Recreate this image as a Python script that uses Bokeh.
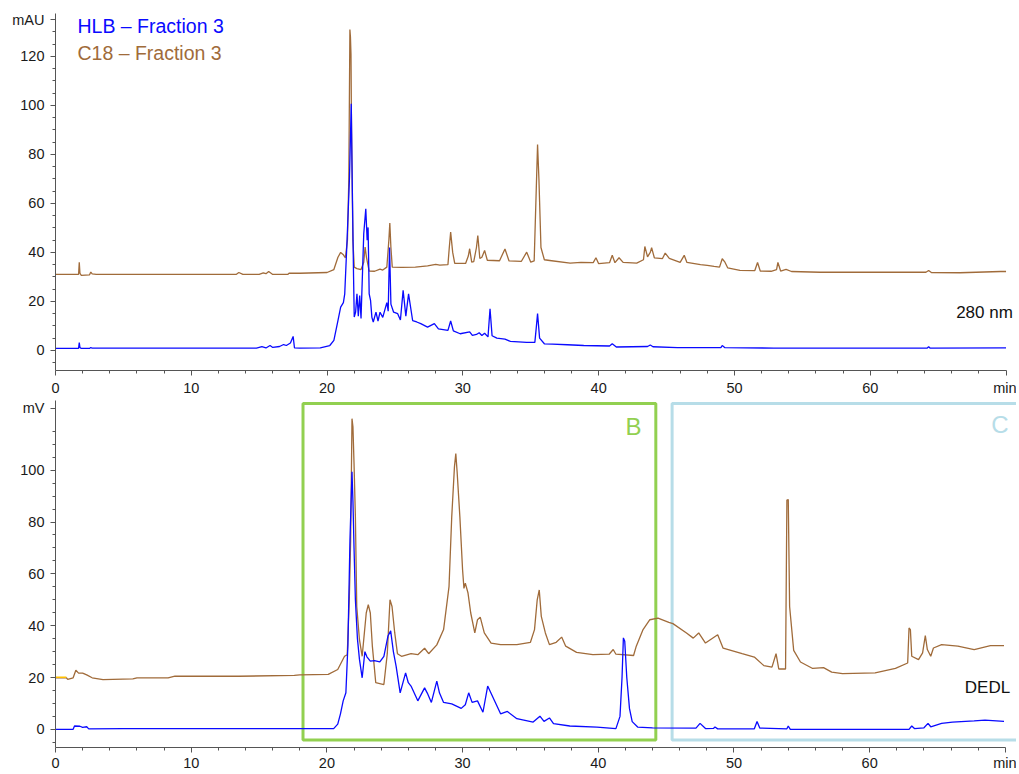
from bokeh.plotting import figure
from bokeh.layouts import column
from bokeh.models import FixedTicker, Range1d, Label
from bokeh.core.properties import value
from bokeh.embed import file_html
from bokeh.resources import INLINE

FONT = "Liberation Sans"
BLUE = "#0a0aff"
BROWN = "#a06b3a"
GREEN = "#92d050"
LIGHTBLUE = "#b7dde8"
YELLOW = "#ffc000"
AXIS = "#555555"

# ---------------- data: UV 280 nm (top panel) ----------------
c18_uv_t = [0, 1.7, 1.75, 1.8, 1.9, 2.5, 2.6, 2.7, 3.0, 13.3, 13.5, 13.8, 15.0, 15.3, 15.5, 15.7, 16.0,
            17.1, 17.2, 18.0, 20.0, 20.5, 20.8, 21.0, 21.2, 21.35, 21.5, 21.6, 21.68, 21.72, 21.76, 21.8,
            21.9, 22.0, 22.2, 22.5, 22.7, 22.8, 22.9, 23.1, 23.5, 23.9, 24.1, 24.4, 24.55, 24.62, 24.7,
            24.8, 25.5, 26.5, 27.4, 28.0, 28.3, 28.9, 29.0, 29.1, 29.25, 29.4, 30.2, 30.4, 30.5, 30.65,
            30.8, 31.0, 31.1, 31.25, 31.4, 31.6, 31.8, 32.7, 33.1, 33.4, 34.3, 34.7, 35.0, 35.25, 35.4,
            35.5, 35.6, 35.75, 36.0, 36.4, 37.9, 38.7, 39.6, 39.8, 40.0, 40.8, 41.0, 41.2, 41.5, 41.8,
            42.8, 43.3, 43.4, 43.6, 43.8, 43.9, 44.1, 44.7, 44.9, 45.2, 46.0, 46.3, 46.5, 47.5, 48.0,
            48.5, 48.9, 49.1, 49.3, 49.5, 50.4, 51.5, 51.7, 51.9, 52.7, 53.1, 53.2, 53.4, 53.8, 54.2,
            55.6, 56.3, 61.0, 64.1, 64.3, 64.5, 66.6, 69.6, 70.0]
c18_uv_v = [31.0, 31.0, 36.0, 31.5, 30.6, 30.8, 32.0, 31.2, 31.0, 31.0, 31.8, 31.0, 31.0, 31.6, 31.3, 32.2, 31.0,
            31.0, 31.5, 31.5, 31.8, 33.0, 38.0, 40.0, 39.0, 37.8, 45.0, 70.0, 131.0, 128.0, 121.0, 90.0,
            45.0, 34.0, 33.4, 33.0, 36.0, 42.2, 38.0, 32.4, 32.3, 33.2, 32.8, 34.0, 45.0, 52.0, 42.0,
            34.0, 33.9, 34.0, 34.5, 35.1, 34.8, 35.0, 42.0, 48.3, 40.0, 35.5, 35.5, 38.5, 41.5, 36.0,
            36.2, 42.0, 46.9, 37.5, 38.0, 40.8, 36.8, 36.6, 41.4, 36.5, 36.3, 40.1, 36.0, 36.5, 65.0,
            84.0, 70.0, 42.0, 37.0, 36.7, 35.6, 35.9, 35.8, 37.8, 35.4, 35.8, 38.8, 35.8, 37.8, 35.9,
            35.6, 37.0, 42.4, 38.2, 40.0, 41.9, 37.8, 37.5, 39.7, 37.6, 35.9, 38.8, 35.9, 35.0, 34.7,
            34.3, 34.0, 37.4, 36.0, 33.7, 32.7, 32.6, 35.9, 32.4, 32.3, 33.0, 35.9, 32.4, 33.1, 32.2,
            32.0, 31.9, 31.9, 31.9, 32.6, 31.8, 31.7, 32.2, 32.2]

hlb_uv_t = [0, 1.7, 1.75, 1.8, 1.9, 2.5, 2.6, 2.7, 3.0, 14.8, 15.2, 15.5, 15.8, 16.0, 16.5, 16.8, 17.0, 17.3,
            17.5, 17.6, 18.0, 19.5, 20.2, 20.5, 20.8, 21.0, 21.2, 21.3, 21.45, 21.55, 21.65, 21.78, 21.85,
            21.95, 22.0, 22.1, 22.2, 22.3, 22.4, 22.5, 22.7, 22.85, 22.95, 23.02, 23.1, 23.2, 23.3, 23.4,
            23.6, 23.75, 23.9, 24.1, 24.4, 24.5, 24.6, 24.7, 24.9, 25.2, 25.4, 25.6, 25.8, 26.0, 26.3,
            26.6, 26.9, 27.4, 27.9, 28.2, 28.9, 29.1, 29.3, 29.8, 30.5, 30.7, 31.0, 31.2, 31.4, 31.6,
            31.85, 32.0, 32.15, 32.5, 33.1, 33.5, 34.7, 35.3, 35.4, 35.5, 35.65, 36.0, 36.6, 37.7, 38.9,
            40.8, 41.0, 41.3, 43.6, 43.8, 44.0, 45.8, 49.0, 49.1, 49.3, 52.9, 61.0, 64.2, 64.3, 64.4, 70.0]
hlb_uv_v = [0.8, 0.8, 3.2, 1.2, 0.8, 0.8, 1.2, 0.9, 0.9, 0.9, 1.5, 1.0, 2.0, 1.2, 1.6, 2.4, 2.0, 3.0,
            5.7, 1.0, 0.9, 1.0, 2.0, 4.1, 12.2, 17.7, 19.5, 23.1, 42.2, 56.0, 70.7, 100.7, 69.4,
            30.0, 13.6, 15.6, 23.1, 14.0, 22.4, 13.0, 47.6, 57.8, 45.0, 50.2, 23.1, 20.4, 13.5, 11.6,
            15.6, 12.0, 15.6, 13.5, 19.5, 16.0, 42.0, 18.9, 15.6, 15.0, 12.4, 24.5, 14.0, 23.1, 12.2,
            11.6, 10.9, 9.5, 10.9, 8.8, 8.2, 12.0, 8.0, 6.8, 7.6, 6.1, 6.5, 7.2, 6.1, 7.0,
            5.5, 17.0, 6.0, 5.0, 4.6, 3.7, 3.3, 3.3, 9.0, 15.0, 5.0, 2.7, 2.6, 2.3, 2.0,
            1.8, 2.7, 1.4, 1.6, 2.2, 1.5, 1.1, 1.1, 2.0, 1.1, 0.95, 0.95, 0.95, 1.5, 0.95, 1.0]

# ---------------- data: DEDL (bottom panel) ----------------
c18_elsd_t = [0, 0.8, 0.9, 1.3, 1.5, 1.7, 2.0, 2.3, 2.7, 3.5, 5.7, 6.0, 8.3, 8.8, 13.5, 17.6, 18.0, 20.1,
              20.8, 21.3, 21.5, 21.65, 21.75, 21.85, 21.92, 22.0, 22.1, 22.2, 22.4, 22.6, 22.9, 23.05,
              23.2, 23.35, 23.6, 24.2, 24.45, 24.65, 24.8, 25.0, 25.2, 25.5, 26.2, 26.7, 27.2, 27.5,
              28.1, 28.6, 29.0, 29.2, 29.4, 29.5, 29.6, 29.8, 30.0, 30.1, 30.2, 30.4, 30.6, 30.9, 31.1,
              31.3, 31.6, 32.1, 32.8, 34.0, 35.0, 35.3, 35.5, 35.65, 35.8, 36.1, 36.4, 36.9, 37.3, 37.6,
              38.4, 39.6, 40.8, 41.1, 41.3, 42.6, 42.8, 43.3, 43.8, 44.4, 45.2, 45.5, 46.5, 47.0, 47.4,
              47.9, 48.8, 49.2, 50.6, 51.5, 52.2, 52.8, 53.1, 53.3, 53.8, 53.9, 54.0, 54.1, 54.4, 54.9,
              55.8, 56.6, 57.2, 58.0, 60.4, 61.9, 62.8, 62.9, 63.0, 63.1, 63.6, 63.9, 64.1, 64.25, 64.5,
              64.7, 65.3, 66.5, 67.7, 68.9, 69.9]
c18_elsd_v = [19.9, 19.9, 19.3, 19.9, 22.8, 21.7, 21.7, 21.0, 19.9, 19.2, 19.5, 19.9, 19.9, 20.5, 20.5, 20.8, 21.0, 21.2,
              23.1, 28.2, 28.8, 50.0, 72.7, 119.9, 116.7, 102.6, 82.0, 47.4, 34.6, 28.2, 44.9, 48.1,
              44.9, 32.1, 18.0, 17.3, 29.2, 50.0, 47.4, 37.2, 29.2, 28.2, 29.2, 28.8, 31.3, 29.2,
              32.6, 38.5, 55.1, 82.0, 101.3, 106.4, 99.1, 82.0, 61.5, 54.4, 56.4, 52.6, 44.9, 37.2, 42.3,
              43.3, 37.2, 33.3, 32.7, 32.7, 33.6, 38.5, 50.0, 53.8, 43.6, 37.2, 32.7, 33.6, 35.6, 32.1,
              29.7, 28.8, 29.0, 30.8, 29.0, 28.5, 32.1, 38.5, 42.3, 42.9, 41.3, 40.8, 37.2, 35.2, 37.2,
              33.3, 36.5, 31.3, 29.2, 27.9, 24.6, 24.0, 29.2, 23.3, 23.3, 88.5, 88.7, 47.4, 30.5, 26.0,
              23.5, 23.8, 22.1, 21.5, 21.8, 23.5, 25.6, 39.1, 38.5, 28.2, 26.9, 29.5, 36.2, 30.8, 28.2,
              31.4, 32.7, 32.1, 30.8, 32.3, 32.3]

hlb_elsd_t = [0, 1.3, 1.4, 1.8, 2.0, 2.3, 2.45, 5.0, 10.0, 17.0, 20.5, 20.8, 21.0, 21.2, 21.4, 21.55, 21.7,
              21.85, 21.92, 22.0, 22.1, 22.25, 22.4, 22.6, 22.8, 22.95, 23.2, 23.5, 23.9, 24.2, 24.5, 24.7,
              24.9, 25.1, 25.4, 25.8, 26.0, 26.2, 26.7, 27.2, 27.4, 27.7, 28.1, 28.3, 28.6, 29.2, 29.9,
              30.2, 30.45, 30.7, 31.1, 31.5, 31.85, 32.2, 32.8, 33.3, 34.0, 35.2, 35.7, 36.0, 36.4, 36.7,
              37.9, 39.9, 41.3, 41.6, 41.75, 41.85, 41.95, 42.1, 42.3, 42.5, 42.9, 44.0, 47.2, 47.5, 47.9,
              48.5, 48.6, 48.8, 51.5, 51.7, 51.9, 53.9, 54.0, 54.15, 62.9, 63.1, 63.3, 64.0, 64.3, 64.5,
              65.3, 66.1, 67.7, 68.5, 69.9]
hlb_elsd_v = [0.0, 0.0, 1.3, 1.2, 0.8, 1.0, 0.2, 0.3, 0.3, 0.3, 0.3, 2.0, 6.0, 11.0, 14.1, 32.6, 73.0,
              99.4, 88.0, 70.0, 50.0, 35.0, 27.0, 19.9, 30.0, 28.0, 26.3, 26.5, 26.0, 28.2, 36.0, 38.0,
              30.0, 24.4, 14.1, 21.8, 18.0, 16.7, 11.0, 16.0, 14.0, 10.4, 18.6, 14.0, 10.4, 9.8, 8.1,
              9.5, 14.1, 10.4, 11.0, 6.6, 16.7, 12.8, 6.0, 6.9, 4.1, 2.8, 5.1, 3.1, 4.4, 2.2,
              1.3, 0.9, 0.3, 5.0, 20.0, 35.3, 34.0, 20.0, 8.0, 3.0, 0.9, 0.6, 0.5, 2.3, 0.3,
              0.4, 0.9, 0.2, 0.2, 3.0, 0.5, 0.2, 1.3, 0.0, 0.0, 1.3, 0.3, 0.6, 2.3, 1.0,
              2.3, 2.8, 3.3, 3.6, 3.1]

c18_elsd_start_t = [0, 0.8]
c18_elsd_start_v = [20.1, 20.1]

x_major = [0, 10, 20, 30, 40, 50, 60, 70]
x_minor = [m for m in range(2, 70, 2) if m % 10 != 0]


def style(p, yticks, yminor, ylabel_tick, ylabel):
    p.grid.visible = False
    p.outline_line_color = None
    p.background_fill_color = "white"
    p.border_fill_color = "white"
    for ax in (p.xaxis[0], p.yaxis[0]):
        ax.axis_line_color = AXIS
        ax.axis_line_width = 1
        ax.major_tick_line_color = AXIS
        ax.minor_tick_line_color = AXIS
        ax.major_tick_in = 0
        ax.minor_tick_in = 0
        ax.major_tick_out = 5
        ax.minor_tick_out = 3
        ax.major_label_text_font = FONT
        ax.major_label_text_font_size = "14.5px"
        ax.major_label_text_color = "#1a1a1a"
    xa = p.xaxis[0]
    xa.ticker = FixedTicker(ticks=x_major, minor_ticks=x_minor)
    xa.major_label_overrides = {70: "min"}
    xa.bounds = (0, 70)
    ya = p.yaxis[0]
    ya.ticker = FixedTicker(ticks=yticks + [ylabel_tick], minor_ticks=yminor)
    ya.major_label_overrides = {ylabel_tick: ylabel}
    ya.major_label_standoff = 6


# ---------------- top panel ----------------
top = figure(width=1016, height=398, output_backend="svg", toolbar_location=None,
             x_range=Range1d(0, 70.77), y_range=Range1d(-8.2, 137.5),
             min_border_left=55, min_border_right=0, min_border_top=13, min_border_bottom=28)
style(top, [0, 20, 40, 60, 80, 100, 120], [v for v in range(-5, 135, 5) if v % 20 != 0], 135, "mAU")
top.xaxis[0].major_label_standoff = 4

top.line(c18_uv_t, c18_uv_v, line_color=BROWN, line_width=1.3)
top.line(hlb_uv_t, hlb_uv_v, line_color=BLUE, line_width=1.3)

top.add_layout(Label(x=1.62, y=132.2, text="HLB – Fraction 3", text_font=FONT, text_font_size="19.5px",
                     text_color=BLUE, text_baseline="middle", text_align="left"))
top.add_layout(Label(x=1.62, y=121.2, text="C18 – Fraction 3", text_font=FONT, text_font_size="19.5px",
                     text_color=BROWN, text_baseline="middle", text_align="left"))
top.add_layout(Label(x=70.5, y=15.5, text="280 nm", text_font=FONT, text_font_size="17px",
                     text_color="#111111", text_baseline="middle", text_align="right"))

# ---------------- bottom panel ----------------
bot = figure(width=1016, height=375, output_backend="svg", toolbar_location=None,
             x_range=Range1d(0, 70.82), y_range=Range1d(-7.0, 126.9),
             min_border_left=50, min_border_right=0, min_border_top=2, min_border_bottom=25)
style(bot, [0, 20, 40, 60, 80, 100], [v for v in range(-5, 125, 5) if v % 20 != 0], 124, "mV")
bot.xaxis[0].major_label_standoff = 2

bot.quad(left=18.24, right=44.24, bottom=-4.1, top=125.7, fill_color=None,
         line_color=GREEN, line_width=3)
bot.quad(left=45.44, right=80.0, bottom=-4.1, top=125.7, fill_color=None,
         line_color=LIGHTBLUE, line_width=3)

bot.line(c18_elsd_t, c18_elsd_v, line_color=BROWN, line_width=1.3)
bot.line(c18_elsd_start_t, c18_elsd_start_v, line_color=YELLOW, line_width=1.5)
bot.line(hlb_elsd_t, hlb_elsd_v, line_color=BLUE, line_width=1.3)

bot.add_layout(Label(x=42.6, y=116.9, text="B", text_font=FONT, text_font_size="24px",
                     text_color=GREEN, text_baseline="middle", text_align="center"))
bot.add_layout(Label(x=69.6, y=117.7, text="C", text_font=FONT, text_font_size="24px",
                     text_color=LIGHTBLUE, text_baseline="middle", text_align="center"))
bot.add_layout(Label(x=70.35, y=16.2, text="DEDL", text_font=FONT, text_font_size="17px",
                     text_color="#111111", text_baseline="middle", text_align="right"))

layout = column(top, bot, spacing=0)
open("out.html", "w").write(file_html(layout, INLINE))
